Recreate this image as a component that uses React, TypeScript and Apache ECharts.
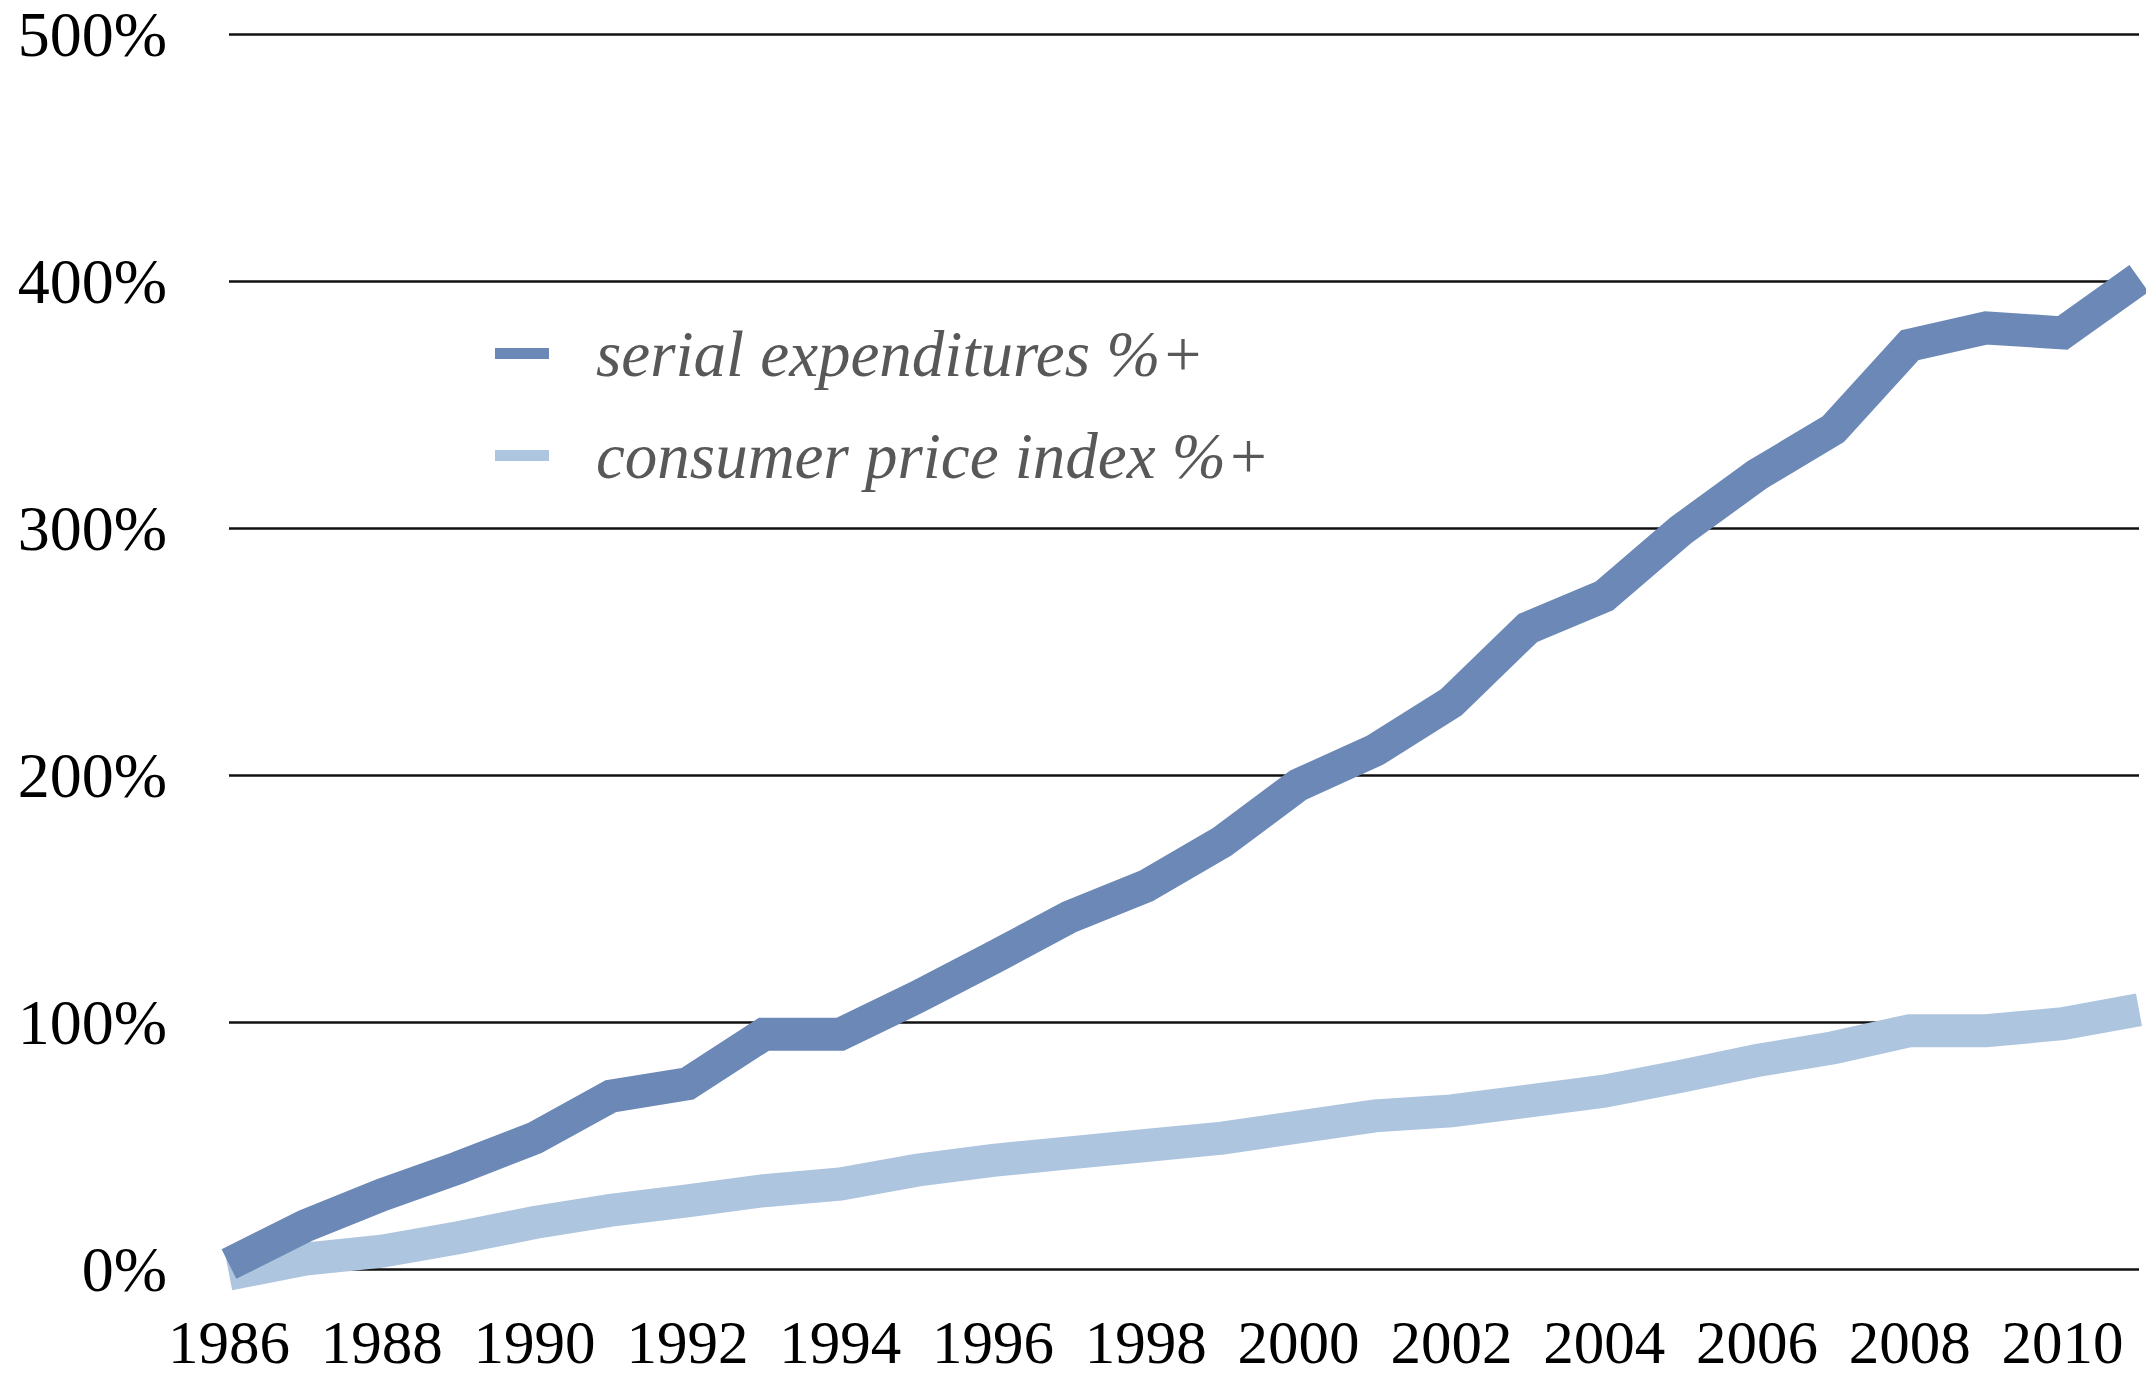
import React, { useEffect, useRef } from "react";
import * as echarts from "echarts";

const years = [
  "1986", "1987", "1988", "1989", "1990", "1991", "1992", "1993", "1994",
  "1995", "1996", "1997", "1998", "1999", "2000", "2001", "2002", "2003",
  "2004", "2005", "2006", "2007", "2008", "2009", "2010", "2011",
];

const serialExpenditures = [
  2, 17.5, 30, 41, 53, 70, 75, 95, 95, 110, 126, 142.5, 155, 173, 196, 210,
  229.5, 259.5, 272.5, 299, 321.5, 340, 374, 381, 379, 401,
];

const consumerPriceIndex = [
  -2, 4, 7.2, 12.7, 18.8, 23.8, 27.6, 31.7, 34.4, 40, 44, 47, 50, 53, 57.5,
  62, 64, 68, 72, 78, 84.4, 89.6, 96.5, 96.5, 99.3, 105,
];

const seriesNames = ["serial expenditures %+", "consumer price index %+"];
const seriesColors = ["#6b88b6", "#aec5df"];

const yTicks = [0, 100, 200, 300, 400, 500];

export default function App() {
  const ref = useRef<HTMLDivElement>(null);

  useEffect(() => {
    if (!ref.current) return;
    const chart = echarts.init(ref.current, undefined, { renderer: "svg" });
    const font = "'Liberation Serif', 'Times New Roman', serif";
    chart.setOption({
      animation: false,
      backgroundColor: "#ffffff",
      grid: { left: 229, right: 7, top: 34, bottom: 109, containLabel: false },
      legend: {
        orient: "vertical",
        left: 490,
        top: 316,
        icon: "rect",
        itemWidth: 54,
        itemHeight: 11,
        itemGap: 37,
        data: seriesNames,
        textStyle: {
          fontFamily: font,
          fontStyle: "italic",
          fontSize: 65,
          lineHeight: 64,
          color: "#585858",
          padding: [0, 0, 0, 42],
        },
      },
      xAxis: {
        type: "category",
        data: years,
        boundaryGap: false,
        axisLine: { show: false },
        axisTick: { show: false },
        splitLine: { show: false },
        axisLabel: {
          interval: 1,
          margin: 45,
          fontFamily: font,
          fontSize: 61,
          lineHeight: 56,
          color: "#000000",
        },
      },
      yAxis: {
        type: "value",
        min: yTicks[0],
        max: yTicks[yTicks.length - 1],
        interval: 100,
        axisLine: { show: false },
        axisTick: { show: false },
        splitLine: { show: true, lineStyle: { color: "#111111", width: 2.5 } },
        axisLabel: {
          margin: 62,
          fontFamily: font,
          fontSize: 64,
          lineHeight: 56,
          color: "#000000",
          formatter: (v: number) => `${v}%`,
        },
      },
      series: [
        {
          name: seriesNames[1],
          type: "line",
          data: consumerPriceIndex,
          showSymbol: false,
          symbol: "none",
          clip: false,
          z: 2,
          color: seriesColors[1],
          lineStyle: { color: seriesColors[1], width: 33, cap: "butt", join: "miter" },
        },
        {
          name: seriesNames[0],
          type: "line",
          data: serialExpenditures,
          showSymbol: false,
          symbol: "none",
          clip: false,
          z: 3,
          color: seriesColors[0],
          lineStyle: { color: seriesColors[0], width: 33, cap: "butt", join: "miter" },
        },
      ],
    });
    return () => chart.dispose();
  }, []);

  return (
    <div
      ref={ref}
      style={{ position: "absolute", left: 0, top: 0, width: 2146, height: 1378 }}
    />
  );
}
